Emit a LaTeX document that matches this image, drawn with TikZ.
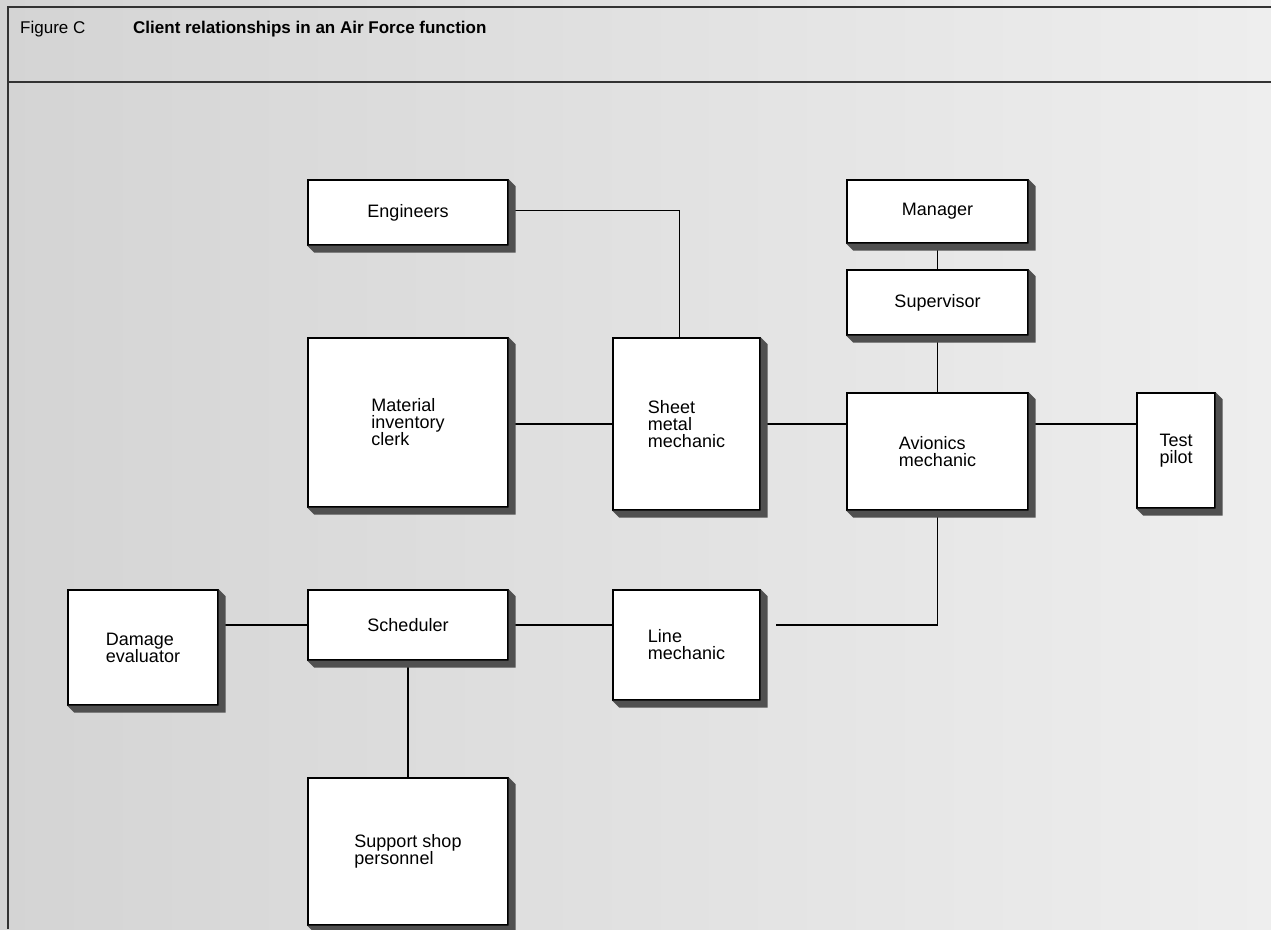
\documentclass[tikz,border=0pt]{standalone}
\usepackage{fontspec}
\setmainfont{Liberation Sans}
\usetikzlibrary{calc}
\pgfdeclarelayer{bg}
\pgfdeclarelayer{wires}
\pgfsetlayers{bg,wires,main}
\definecolor{paperL}{RGB}{212,212,212}
\definecolor{paperR}{RGB}{238,238,238}
\definecolor{shadowc}{RGB}{80,80,80}
\tikzset{
  unitbox/.style={draw=black, line width=1.4pt, fill=white, inner sep=0pt,
    align=left, font=\fontsize{18}{17}\selectfont},
  wire/.style={line width=1.7pt, black},
  framing/.style={line width=1.5pt, black!80},
}
% box with its lower-right bevelled drop shadow: name, x1, y1, x2, y2, text
\newcommand{\unitnode}[6]{%
  \node[unitbox, minimum width={(#4-#2)*1pt}, minimum height={(#5-#3)*1pt}]
    (#1) at ({(#2+#4)/2},{(#3+#5)/2}) {#6};
  \fill[shadowc] (#1.north east) -- ($(#1.north east)+(7,7)$)
    -- ($(#1.south east)+(7,7)$) -- ($(#1.south west)+(7,7)$)
    -- (#1.south west) -- (#1.south east) -- cycle;
}
\begin{document}
\begin{tikzpicture}[x=1pt, y=-1pt]
\useasboundingbox (0,0) rectangle (1271,929);
\begin{pgfonlayer}{bg}
  \shade[left color=paperL, right color=paperR] (0,0) rectangle (1271,929);
  \draw[framing] (1271,7) -- (8,7) -- (8,929);
  \draw[framing] (8,82) -- (1271,82);
\end{pgfonlayer}

\node[anchor=base west, font=\fontsize{17}{20}\selectfont, inner sep=0pt]
  (figlabel) at (20,33) {Figure C};
\node[anchor=base west, font=\fontsize{17}{20}\selectfont\bfseries, inner sep=0pt]
  (figtitle) at (133,33) {Client relationships in an Air Force function};

\unitnode{eng}{308}{180}{508}{245}{Engineers}
\unitnode{mgr}{847}{180}{1028}{243}{Manager}
\unitnode{sup}{847}{270}{1028}{335}{Supervisor}
\unitnode{mat}{308}{338}{508}{507}{Material\\inventory\\clerk}
\unitnode{sheet}{613}{338}{760}{510}{Sheet\\metal\\mechanic}
\unitnode{avi}{847}{393}{1028}{510}{Avionics\\mechanic}
\unitnode{pilot}{1137}{393}{1215}{508}{Test\\pilot}
\unitnode{dmg}{68}{590}{218}{705}{Damage\\evaluator}
\unitnode{sched}{308}{590}{508}{660}{Scheduler}
\unitnode{line}{613}{590}{760}{700}{Line\\mechanic}
\unitnode{shop}{308}{778}{508}{925}{Support shop\\personnel}

\coordinate (engdrop) at ($(sheet.north)+(-7,0)$);
\coordinate (lineend) at ($(line.east)+(15,0)$);
\begin{pgfonlayer}{wires}
  \draw[wire] ($(eng.east)+(0,-2)$) -| (engdrop);
  \draw[wire] (mgr.south) -- (sup.north);
  \draw[wire] (sup.south) -- (avi.north);
  \draw[wire] (mat.east |- sheet.east) -- (sheet.west);
  \draw[wire] (sheet.east) -- (avi.west |- sheet.east);
  \draw[wire] (avi.east |- sheet.east) -- (pilot.west |- sheet.east);
  \draw[wire] (avi.south) |- (lineend |- sched.east);
  \draw[wire] (dmg.east |- sched.east) -- (sched.west);
  \draw[wire] (sched.east) -- (line.west |- sched.east);
  \draw[wire] (sched.south) -- (shop.north);
\end{pgfonlayer}
\end{tikzpicture}
\end{document}
